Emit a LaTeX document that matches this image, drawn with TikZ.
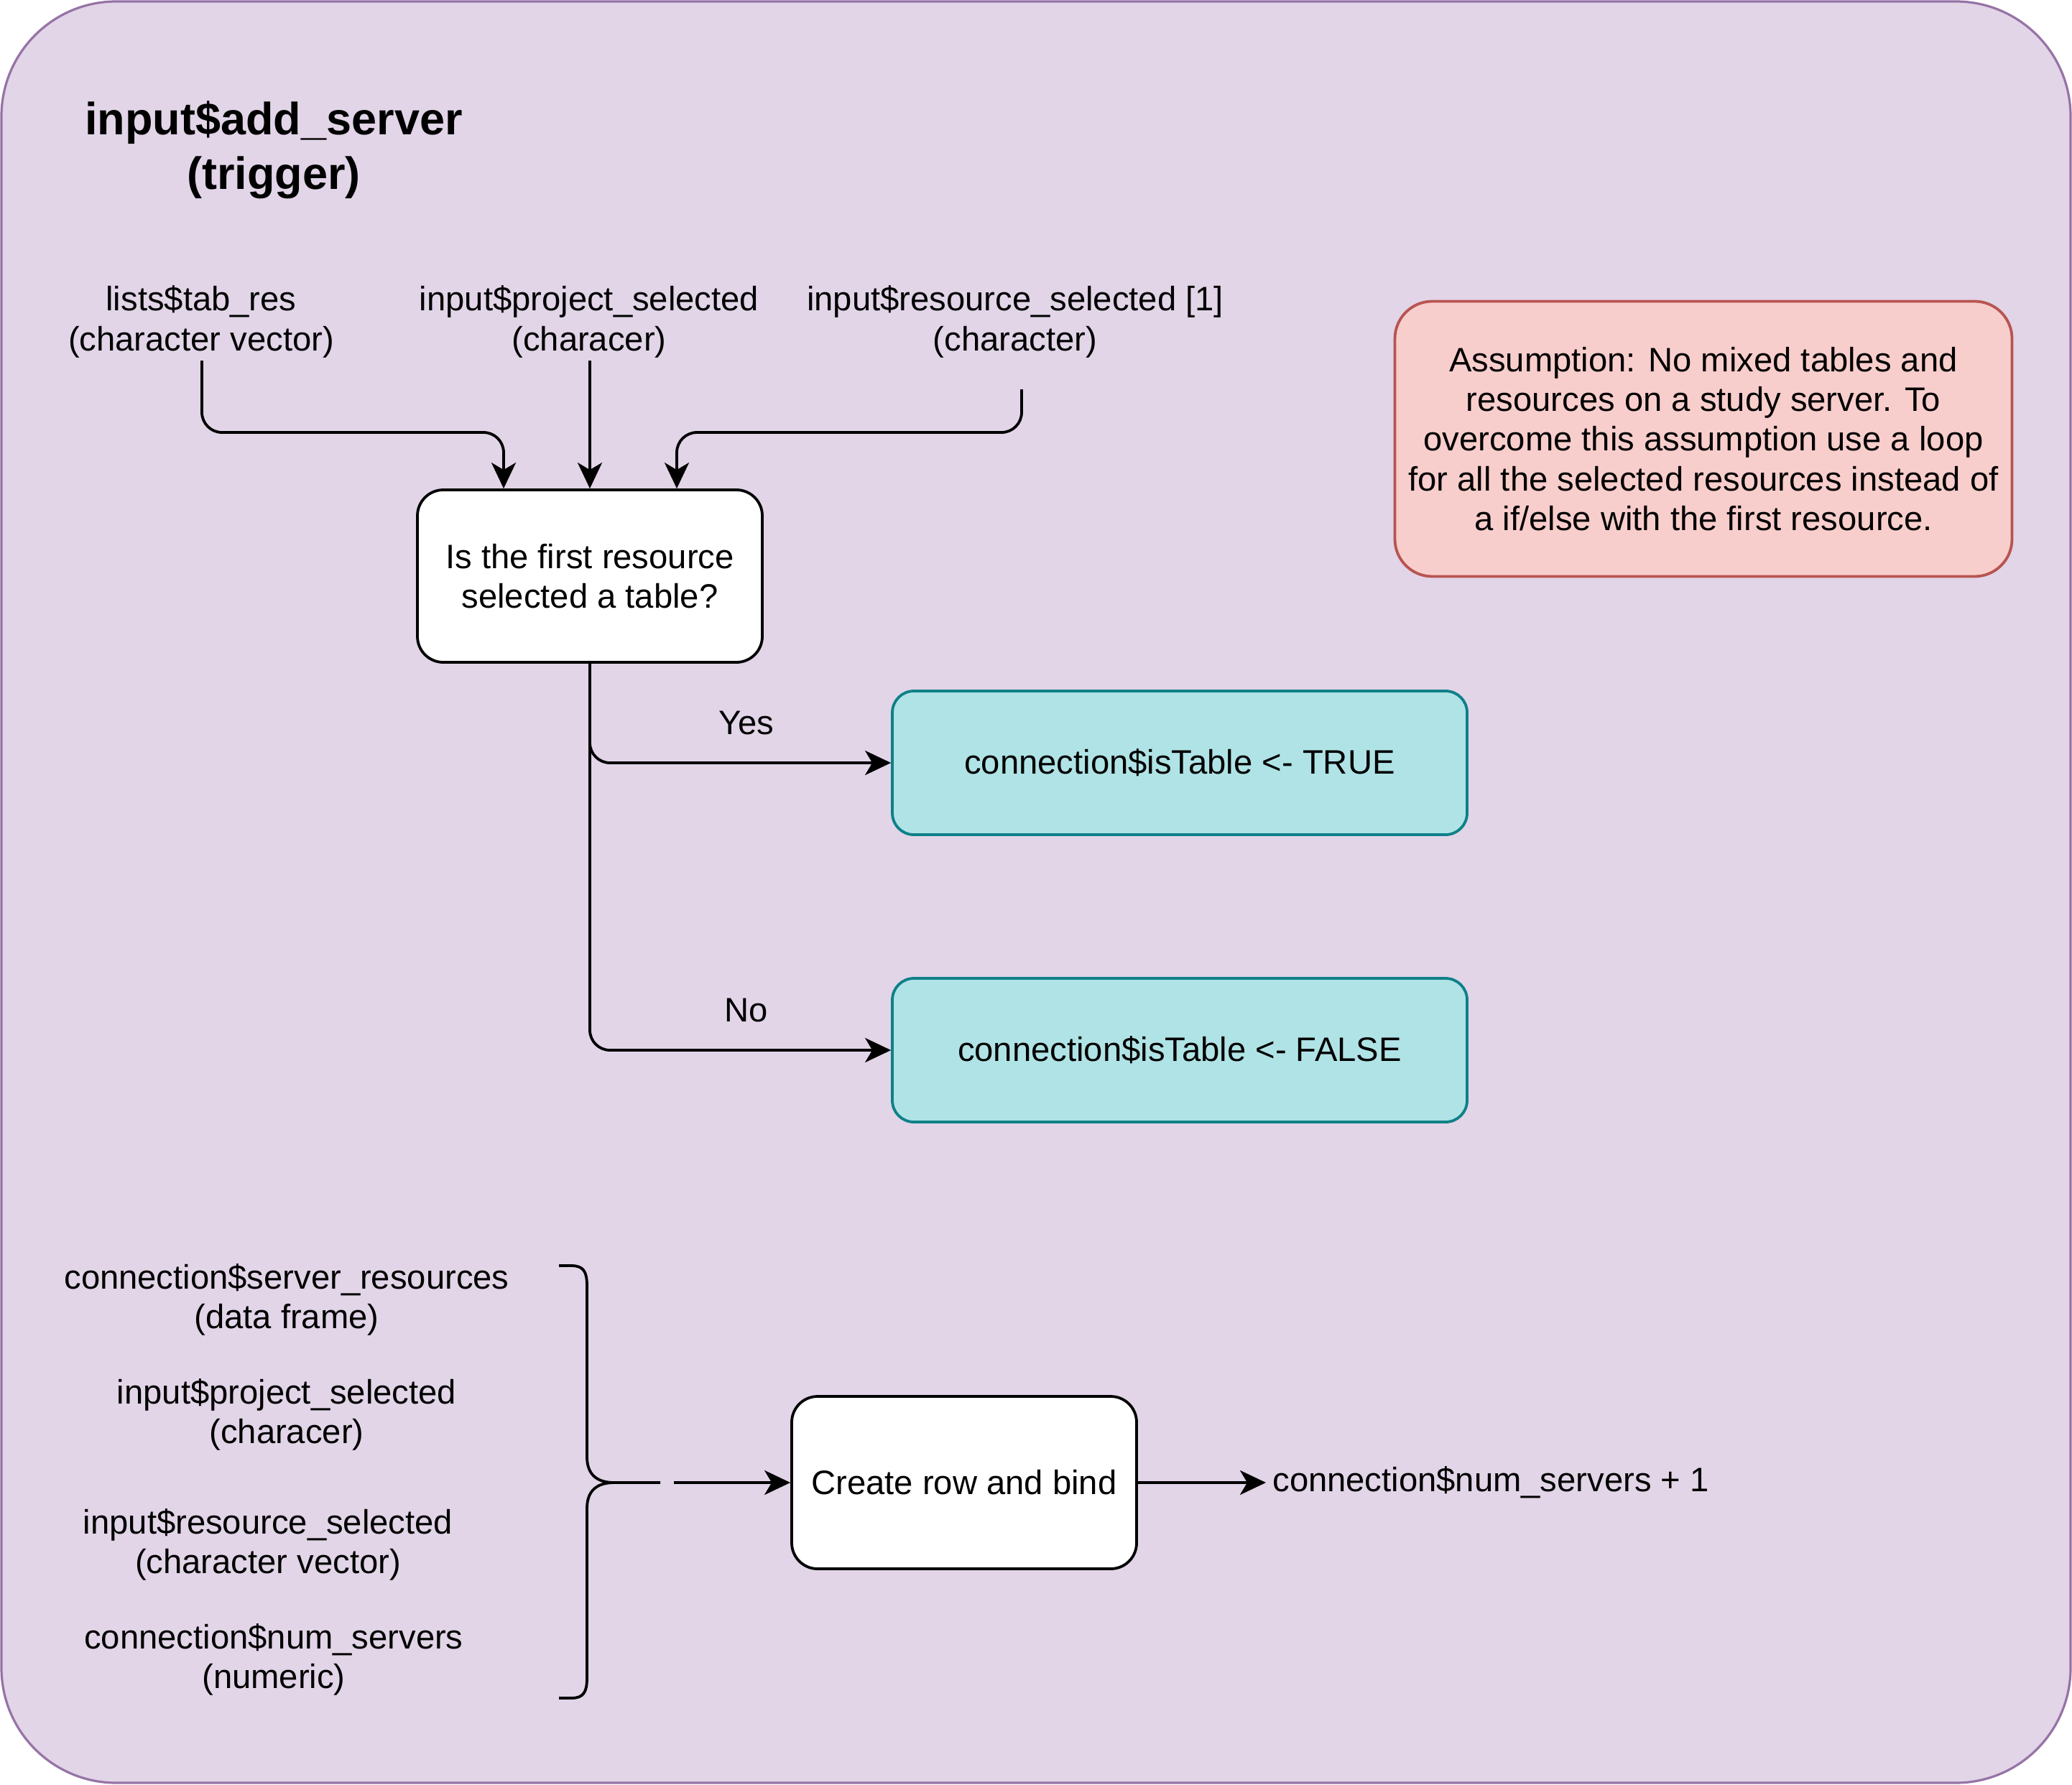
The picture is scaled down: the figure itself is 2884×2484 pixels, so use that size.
\documentclass[tikz,border=0pt]{standalone}
\usepackage{fontspec}
\setmainfont{Liberation Sans}
\usetikzlibrary{arrows.meta,calc}
\definecolor{bgfill}{HTML}{E1D5E7}
\definecolor{bgline}{HTML}{9673A6}
\definecolor{tealfill}{HTML}{B0E3E6}
\definecolor{tealline}{HTML}{0E8088}
\definecolor{notefill}{HTML}{F8CECC}
\definecolor{noteline}{HTML}{B85450}
\begin{document}
\begin{tikzpicture}[x=0.5pt,y=-0.5pt,
  txt/.style={font=\fontsize{23.6}{27.6}\selectfont, align=center, inner sep=0pt},
  titletxt/.style={font=\bfseries\fontsize{31.5}{37.8}\selectfont, align=center, inner sep=0pt},
  whitebox/.style={txt, draw=black, fill=white, line width=1.9pt, rounded corners=18pt,
    minimum width=240pt, minimum height=120pt},
  tealbox/.style={txt, draw=tealline, fill=tealfill, line width=1.9pt, rounded corners=15pt,
    minimum width=400pt, minimum height=100pt},
  notebox/.style={txt, draw=noteline, fill=notefill, line width=1.9pt, rounded corners=26pt,
    minimum width=429.5pt, minimum height=191.5pt},
  conn/.style={line width=1.9pt, rounded corners=14pt},
  arr/.style={conn, -{Stealth[length=18pt,width=17pt,inset=5pt]}}
]
\useasboundingbox (0,0) rectangle (2884,2484);
\draw[fill=bgfill, draw=bgline, line width=1.6pt, rounded corners=80pt] (2,2) rectangle (2882,2482);

\node[titletxt] (title) at (381,209) {input\$add\_server\\(trigger)};

\node[txt] (lists) at (280,448) {lists\$tab\_res\\(character vector)};
\node[txt] (proj) at (820,448) {input\$project\_selected\\(characer)};
\node[txt] (res) at (1413,448) {input\$resource\_selected [1]\\(character)};

\node[notebox] (note) at (2371,611) {Assumption: No mixed tables and\\resources on a study server. To\\overcome this assumption use a loop\\for all the selected resources instead of\\a if/else with the first resource.};

\node[whitebox] (q) at (821,802) {Is the first resource\\selected a table?};
\node[tealbox] (tbox) at (1642,1062) {connection\$isTable <- TRUE};
\node[tealbox] (fbox) at (1642,1462) {connection\$isTable <- FALSE};

\coordinate (ls) at (281,502);
\coordinate (ps) at (821,502);
\coordinate (rs) at (1422,542);
\draw[arr] (ls) -- (281,602) -- (701,602) -- ($(q.north)+(-120,0)$);
\draw[arr] (ps) -- (q.north);
\draw[arr] (rs) -- (1422,602) -- (942,602) -- ($(q.north)+(121,0)$);

\draw[arr] (q.south) |- (tbox.west);
\draw[arr] (q.south) |- (fbox.west);
\node[txt] (yes) at (1039,1006) {Yes};
\node[txt] (no) at (1039,1406) {No};

\node[txt] (in1) at (399,1809) {connection\$server\_resources\\(data frame)};
\node[txt] (in2) at (399,1969) {input\$project\_selected\\(characer)};
\node[txt] (in3) at (373,2150) {input\$resource\_selected\\(character vector)};
\node[txt] (in4) at (381,2310) {connection\$num\_servers\\(numeric)};

\draw[line width=1.9pt]
  (778,1762) -- (795,1762) .. controls (812,1762) and (817,1770) .. (817,1790)
  -- (817,2028) .. controls (817,2052) and (830,2064) .. (855,2064) -- (919,2064);
\draw[line width=1.9pt]
  (855,2064) .. controls (830,2064) and (817,2076) .. (817,2100)
  -- (817,2336) .. controls (817,2356) and (812,2364) .. (795,2364) -- (778,2364);

\node[whitebox] (create) at (1342,2064) {Create row and bind};
\coordinate (bs) at (938,2064);
\draw[arr] (bs) -- (create.west);
\node[txt, anchor=west, inner xsep=4.5pt] (out) at (1762,2064) {connection\$num\_servers + 1};
\draw[arr] (create.east) -- (out.west);
\end{tikzpicture}
\end{document}
